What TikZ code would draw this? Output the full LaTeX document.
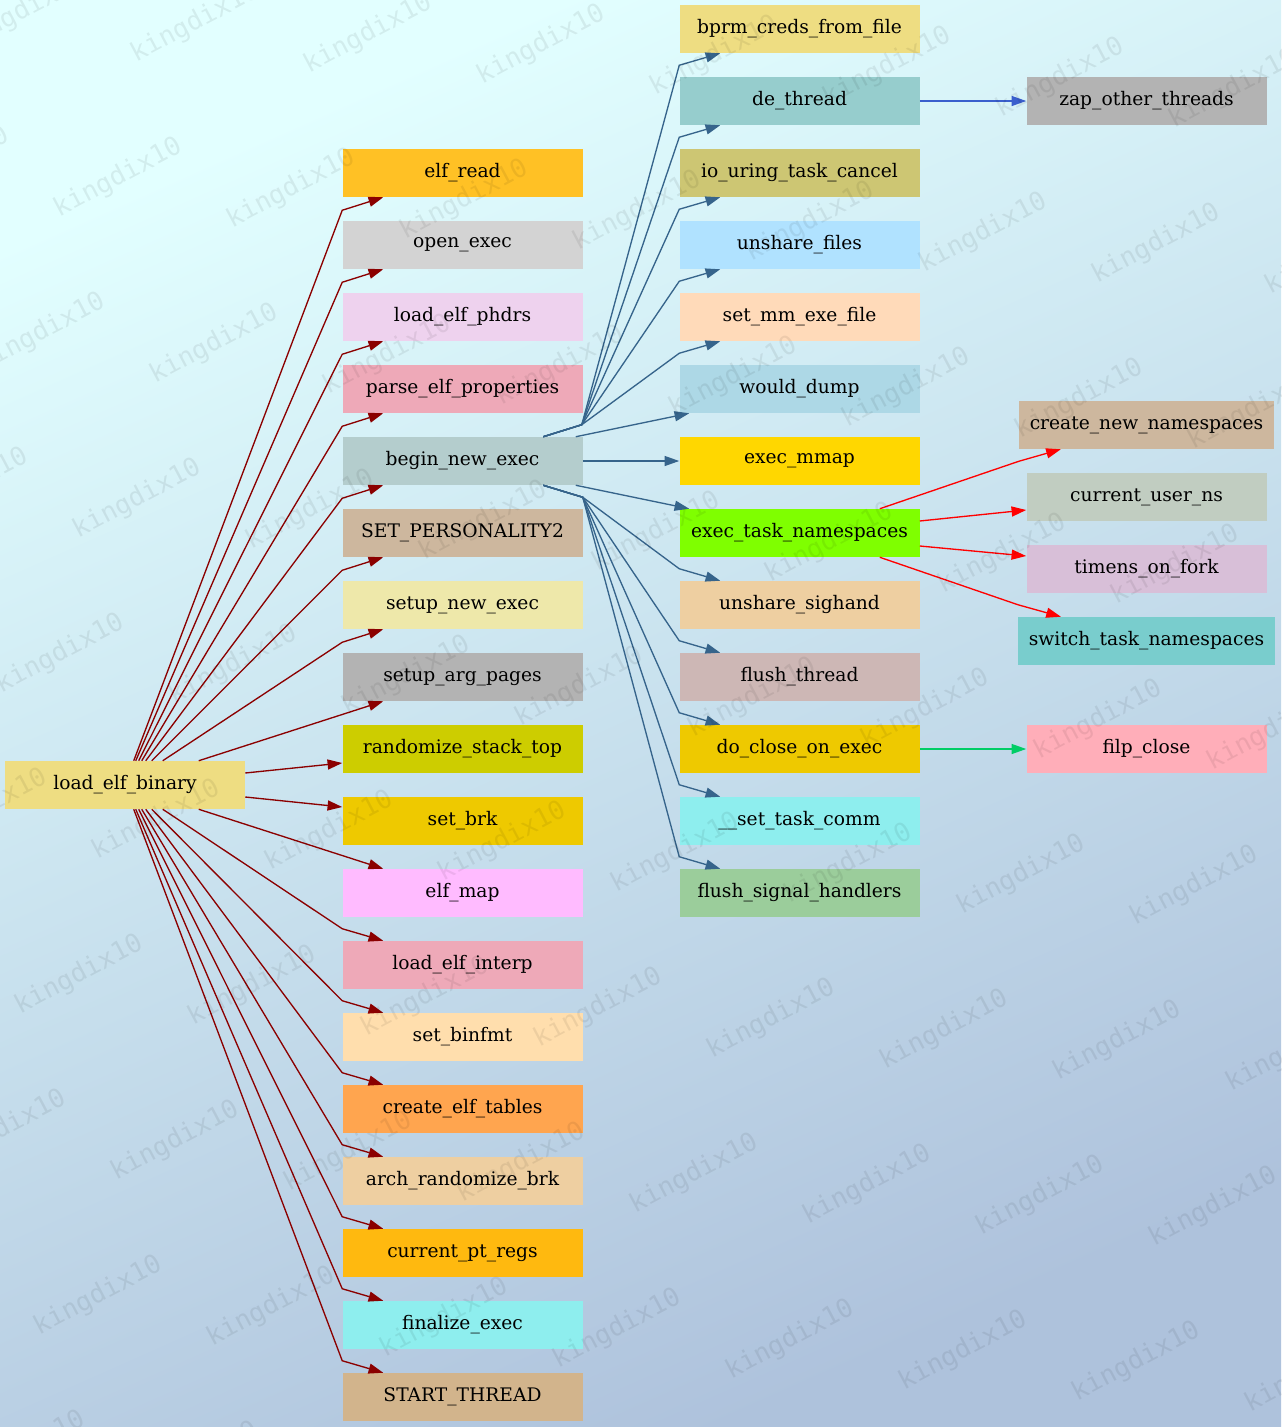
\documentclass[tikz,border=0pt]{standalone}
\usepackage{fontspec}
\setmainfont{DejaVu Serif}
\newfontfamily\wmfont{DejaVu Sans Mono}
\usepackage{tikz}
\usetikzlibrary{calc,arrows.meta}

\definecolor{bgtop}{HTML}{E2FFFF}
\definecolor{bgbot}{HTML}{AEC2DC}
\definecolor{lgold}{HTML}{EEDD82}
\definecolor{grod}{HTML}{FFC125}
\definecolor{lgray}{HTML}{D3D3D3}
\definecolor{thistletwo}{HTML}{EED2EE}
\definecolor{pinktwo}{HTML}{EEA9B8}
\definecolor{lcyanthree}{HTML}{B4CDCD}
\definecolor{bisquethree}{HTML}{CDB79E}
\definecolor{pgold}{HTML}{EEE8AA}
\definecolor{grayseventy}{HTML}{B3B3B3}
\definecolor{yellowthree}{HTML}{CDCD00}
\definecolor{goldtwo}{HTML}{EEC900}
\definecolor{plumone}{HTML}{FFBBFF}
\definecolor{nwhite}{HTML}{FFDEAD}
\definecolor{tanone}{HTML}{FFA54F}
\definecolor{nwhitetwo}{HTML}{EECFA1}
\definecolor{dgrod}{HTML}{FFB90F}
\definecolor{dsgtwo}{HTML}{8EEEEE}
\definecolor{tanc}{HTML}{D2B48C}
\definecolor{pturq}{HTML}{96CDCD}
\definecolor{khakithree}{HTML}{CDC673}
\definecolor{lskyone}{HTML}{B0E2FF}
\definecolor{ppuff}{HTML}{FFDAB9}
\definecolor{lblue}{HTML}{ADD8E6}
\definecolor{goldc}{HTML}{FFD700}
\definecolor{chart}{HTML}{7FFF00}
\definecolor{mrose}{HTML}{CDB7B5}
\definecolor{dsgreen}{HTML}{9BCD9B}
\definecolor{honeythree}{HTML}{C1CDC1}
\definecolor{thistlec}{HTML}{D8BFD8}
\definecolor{dsgthree}{HTML}{79CDCD}
\definecolor{lpinkone}{HTML}{FFAEB9}
\definecolor{dred}{HTML}{8B0000}
\definecolor{sbluefour}{HTML}{36648B}
\definecolor{rblue}{HTML}{3A5FCD}
\definecolor{sgreen}{HTML}{00CD66}

\begin{document}
\begin{tikzpicture}[x=0.75pt, y=-0.75pt,
    fn/.style={rectangle, minimum width=180pt, minimum height=36pt, inner xsep=8pt,
        font=\fontsize{14pt}{16pt}\selectfont},
    lebcall/.style={draw=dred, line width=1pt, -{Triangle[length=11pt,width=7.5pt]}},
    bnecall/.style={draw=sbluefour, line width=1pt, -{Triangle[length=11pt,width=7.5pt]}},
    etncall/.style={draw=red, line width=1pt, -{Triangle[length=11pt,width=7.5pt]}},
    dtcall/.style={draw=rblue, line width=1pt, -{Triangle[length=11pt,width=7.5pt]}},
    dcoecall/.style={draw=sgreen, line width=1pt, -{Triangle[length=11pt,width=7.5pt]}},
    wmark/.style={rotate=28, text=black, text opacity=0.07,
        font=\wmfont\fontsize{19.5pt}{20pt}\selectfont}]
    \useasboundingbox (0,0) rectangle (1281,1427);
    \shade[top color=bgtop, bottom color=bgbot, shading angle=24] (0,0) rectangle (1281,1427);

    % first level
    \node[fn, fill=lgold] (leb) at (125,785) {load\_elf\_binary};

    % second level
    \node[fn, fill=grod] (er) at (462.5,173) {elf\_read};
    \node[fn, fill=lgray] (oe) at (462.5,245) {open\_exec};
    \node[fn, fill=thistletwo] (lep) at (462.5,317) {load\_elf\_phdrs};
    \node[fn, fill=pinktwo] (pep) at (462.5,389) {parse\_elf\_properties};
    \node[fn, fill=lcyanthree] (bne) at (462.5,461) {begin\_new\_exec};
    \node[fn, fill=bisquethree] (sp) at (462.5,533) {SET\_PERSONALITY2};
    \node[fn, fill=pgold] (sne) at (462.5,605) {setup\_new\_exec};
    \node[fn, fill=grayseventy] (sap) at (462.5,677) {setup\_arg\_pages};
    \node[fn, fill=yellowthree] (rst) at (462.5,749) {randomize\_stack\_top};
    \node[fn, fill=goldtwo] (sb) at (462.5,821) {set\_brk};
    \node[fn, fill=plumone] (em) at (462.5,893) {elf\_map};
    \node[fn, fill=pinktwo] (lei) at (462.5,965) {load\_elf\_interp};
    \node[fn, fill=nwhite] (sbf) at (462.5,1037) {set\_binfmt};
    \node[fn, fill=tanone] (cet) at (462.5,1109) {create\_elf\_tables};
    \node[fn, fill=nwhitetwo] (arb) at (462.5,1181) {arch\_randomize\_brk};
    \node[fn, fill=dgrod] (cpr) at (462.5,1253) {current\_pt\_regs};
    \node[fn, fill=dsgtwo] (fe) at (462.5,1325) {finalize\_exec};
    \node[fn, fill=tanc] (st) at (462.5,1397) {START\_THREAD};

    % third level
    \node[fn, fill=lgold] (bcf) at (799.5,29) {bprm\_creds\_from\_file};
    \node[fn, fill=pturq] (dt) at (799.5,101) {de\_thread};
    \node[fn, fill=khakithree] (iutc) at (799.5,173) {io\_uring\_task\_cancel};
    \node[fn, fill=lskyone] (uf) at (799.5,245) {unshare\_files};
    \node[fn, fill=ppuff] (smef) at (799.5,317) {set\_mm\_exe\_file};
    \node[fn, fill=lblue] (wd) at (799.5,389) {would\_dump};
    \node[fn, fill=goldc] (emm) at (799.5,461) {exec\_mmap};
    \node[fn, fill=chart] (etn) at (799.5,533) {exec\_task\_namespaces};
    \node[fn, fill=nwhitetwo] (us) at (799.5,605) {unshare\_sighand};
    \node[fn, fill=mrose] (ft) at (799.5,677) {flush\_thread};
    \node[fn, fill=goldtwo] (dcoe) at (799.5,749) {do\_close\_on\_exec};
    \node[fn, fill=dsgtwo] (stc) at (799.5,821) {\_\_set\_task\_comm};
    \node[fn, fill=dsgreen] (fsh) at (799.5,893) {flush\_signal\_handlers};

    % fourth level
    \node[fn, fill=grayseventy] (zot) at (1146.5,101) {zap\_other\_threads};
    \node[fn, fill=bisquethree] (cnn) at (1146.5,425) {create\_new\_namespaces};
    \node[fn, fill=honeythree] (cun) at (1146.5,497) {current\_user\_ns};
    \node[fn, fill=thistlec] (tof) at (1146.5,569) {timens\_on\_fork};
    \node[fn, fill=dsgthree] (stn) at (1146.5,641) {switch\_task\_namespaces};
    \node[fn, fill=lpinkone] (fc) at (1146.5,749) {filp\_close};

    % load_elf_binary
    \draw[lebcall] ($(leb.north west)+(129,0)$) -- ($(er.south west)+(0,13)$) -- ($(er.south west)+(41,0)$);
    \draw[lebcall] ($(leb.north west)+(131,0)$) -- ($(oe.south west)+(0,13)$) -- ($(oe.south west)+(41,0)$);
    \draw[lebcall] ($(leb.north west)+(134,0)$) -- ($(lep.south west)+(0,13)$) -- ($(lep.south west)+(41,0)$);
    \draw[lebcall] ($(leb.north west)+(137,0)$) -- ($(pep.south west)+(0,13)$) -- ($(pep.south west)+(41,0)$);
    \draw[lebcall] ($(leb.north west)+(141,0)$) -- ($(bne.south west)+(0,13)$) -- ($(bne.south west)+(41,0)$);
    \draw[lebcall] ($(leb.north west)+(147,0)$) -- ($(sp.south west)+(0,13)$) -- ($(sp.south west)+(41,0)$);
    \draw[lebcall] ($(leb.north west)+(158,0)$) -- ($(sne.south west)+(0,13)$) -- ($(sne.south west)+(41,0)$);
    \draw[lebcall] ($(leb.north west)+(194,0)$) -- ($(sap.south west)+(41,0)$);
    \draw[lebcall] ($(leb.east)+(0,-12)$) -- ($(rst.west)+(0,14)$);
    \draw[lebcall] ($(leb.east)+(0,12)$) -- ($(sb.west)+(0,-14)$);
    \draw[lebcall] ($(leb.south west)+(194,0)$) -- ($(em.north west)+(41,0)$);
    \draw[lebcall] ($(leb.south west)+(158,0)$) -- ($(lei.north west)+(0,-12)$) -- ($(lei.north west)+(41,0)$);
    \draw[lebcall] ($(leb.south west)+(147,0)$) -- ($(sbf.north west)+(0,-12)$) -- ($(sbf.north west)+(41,0)$);
    \draw[lebcall] ($(leb.south west)+(141,0)$) -- ($(cet.north west)+(0,-12)$) -- ($(cet.north west)+(41,0)$);
    \draw[lebcall] ($(leb.south west)+(137,0)$) -- ($(arb.north west)+(0,-12)$) -- ($(arb.north west)+(41,0)$);
    \draw[lebcall] ($(leb.south west)+(134,0)$) -- ($(cpr.north west)+(0,-12)$) -- ($(cpr.north west)+(41,0)$);
    \draw[lebcall] ($(leb.south west)+(131,0)$) -- ($(fe.north west)+(0,-12)$) -- ($(fe.north west)+(41,0)$);
    \draw[lebcall] ($(leb.south west)+(129,0)$) -- ($(st.north west)+(0,-12)$) -- ($(st.north west)+(41,0)$);

    % begin_new_exec
    \draw[bnecall] ($(bne.north west)+(201,0)$) -- ($(bne.north east)+(-1,-12)$) -- ($(bcf.south west)+(0,12)$) -- ($(bcf.south west)+(41,0)$);
    \draw[bnecall] ($(bne.north west)+(201,0)$) -- ($(bne.north east)+(-1,-12)$) -- ($(dt.south west)+(0,12)$) -- ($(dt.south west)+(41,0)$);
    \draw[bnecall] ($(bne.north west)+(201,0)$) -- ($(bne.north east)+(-1,-12)$) -- ($(iutc.south west)+(0,12)$) -- ($(iutc.south west)+(41,0)$);
    \draw[bnecall] ($(bne.north west)+(201,0)$) -- ($(bne.north east)+(-1,-12)$) -- ($(uf.south west)+(0,12)$) -- ($(uf.south west)+(41,0)$);
    \draw[bnecall] ($(bne.north west)+(201,0)$) -- ($(bne.north east)+(-1,-12)$) -- ($(smef.south west)+(0,12)$) -- ($(smef.south west)+(41,0)$);
    \draw[bnecall] ($(bne.north east)+(-7,0)$) -- ($(wd.south west)+(10,0)$);
    \draw[bnecall] (bne.east) -- (emm.west);
    \draw[bnecall] ($(bne.south east)+(-7,0)$) -- ($(etn.north west)+(10,0)$);
    \draw[bnecall] ($(bne.south west)+(201,0)$) -- ($(bne.south east)+(0,12)$) -- ($(us.north west)+(0,-12)$) -- ($(us.north west)+(41,0)$);
    \draw[bnecall] ($(bne.south west)+(201,0)$) -- ($(bne.south east)+(0,12)$) -- ($(ft.north west)+(0,-12)$) -- ($(ft.north west)+(41,0)$);
    \draw[bnecall] ($(bne.south west)+(201,0)$) -- ($(bne.south east)+(0,12)$) -- ($(dcoe.north west)+(0,-12)$) -- ($(dcoe.north west)+(41,0)$);
    \draw[bnecall] ($(bne.south west)+(201,0)$) -- ($(bne.south east)+(0,12)$) -- ($(stc.north west)+(0,-12)$) -- ($(stc.north west)+(41,0)$);
    \draw[bnecall] ($(bne.south west)+(201,0)$) -- ($(bne.south east)+(0,12)$) -- ($(fsh.north west)+(0,-12)$) -- ($(fsh.north west)+(41,0)$);

    % third level calls
    \draw[dtcall] (dt.east) -- (zot.west);
    \draw[etncall] ($(etn.north east)+(-40,0)$) -- ($(cnn.south west)+(0,12)$) -- ($(cnn.south west)+(42,0)$);
    \draw[etncall] ($(etn.east)+(0,-12)$) -- ($(cun.west)+(0,13)$);
    \draw[etncall] ($(etn.east)+(0,13)$) -- ($(tof.west)+(0,-13)$);
    \draw[etncall] ($(etn.south east)+(-40,0)$) -- ($(stn.north west)+(0,-12)$) -- ($(stn.north west)+(43,0)$);
    \draw[dcoecall] (dcoe.east) -- (fc.west);

    % watermark
    \begin{scope}
        \clip (0,0) rectangle (1281,1427);
        \foreach \i in {-5,...,7}
            \foreach \j in {-1,...,8}
                \node[wmark] (wm\i\j) at ({118+173*\i+96*\j},{178+11*\i+166*\j}) {kingdix10};
    \end{scope}
\end{tikzpicture}
\end{document}
